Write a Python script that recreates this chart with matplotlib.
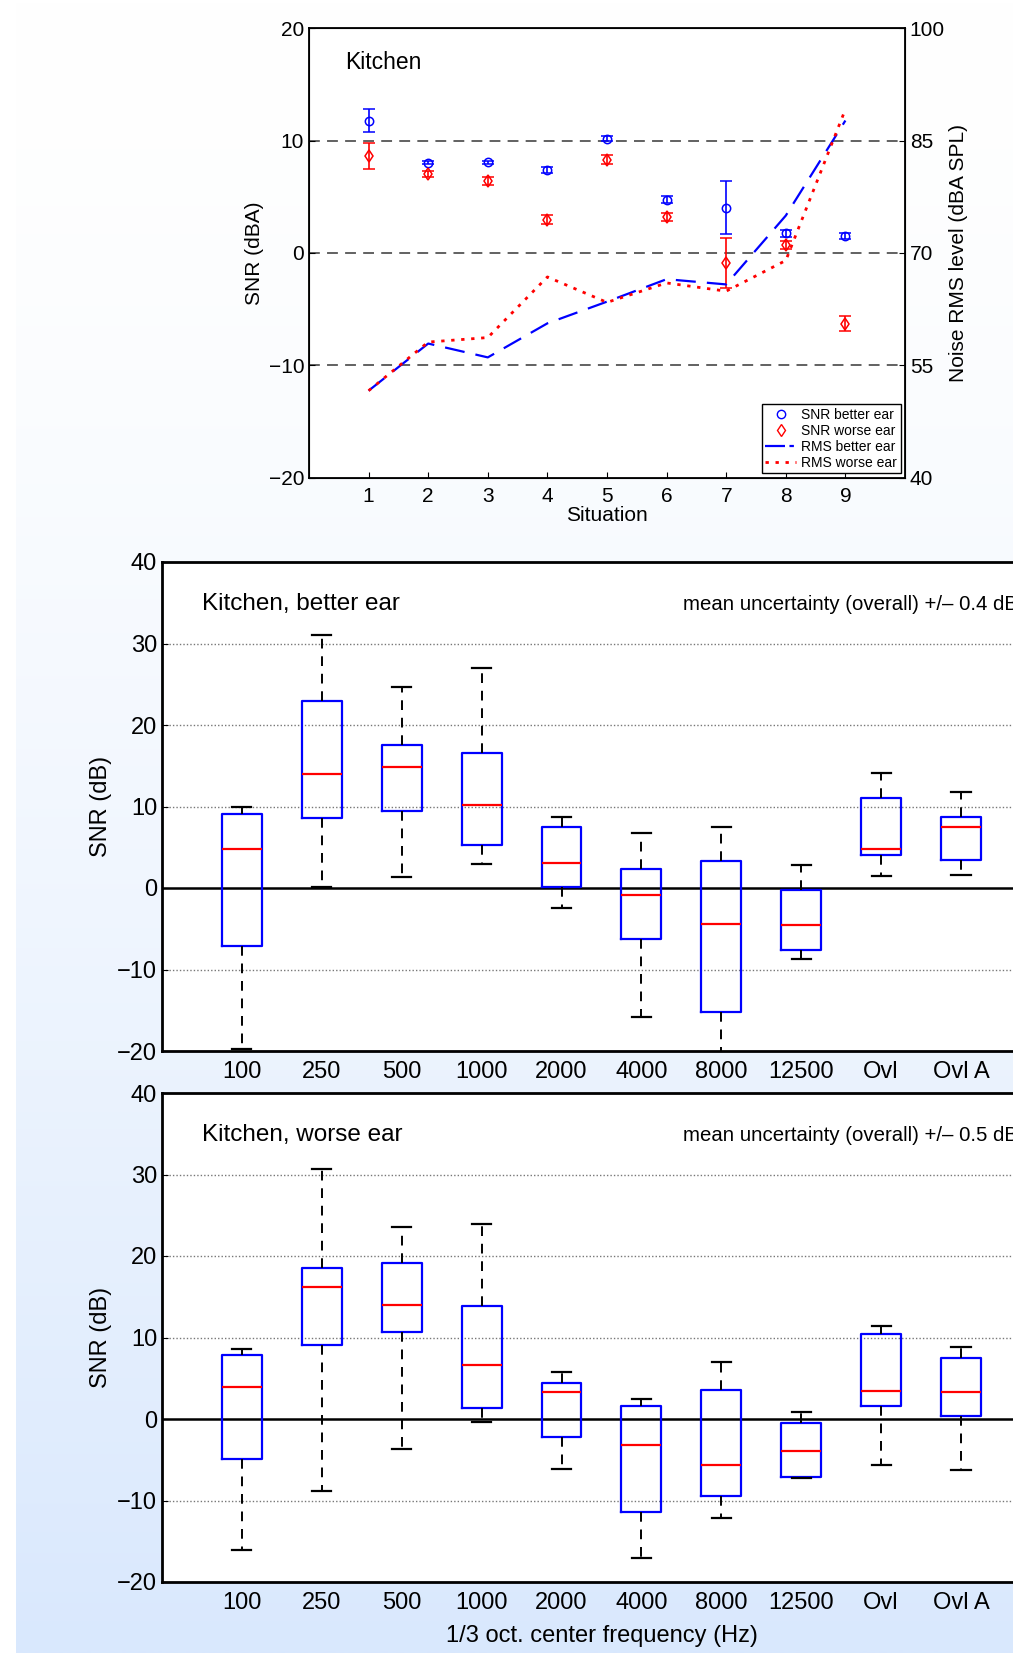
import numpy as np
import matplotlib
matplotlib.use("Agg")
import matplotlib.pyplot as plt
from matplotlib.lines import Line2D

plt.rcParams['font.family'] = ['Liberation Sans', 'DejaVu Sans']

# ---------------- data: top chart ----------------
situations = [1, 2, 3, 4, 5, 6, 7, 8, 9]
snr_better = [11.8, 8.05, 8.08, 7.4, 10.2, 4.76, 4.05, 1.75, 1.51]
snr_better_err = [1.05, 0.15, 0.15, 0.3, 0.2, 0.3, 2.37, 0.3, 0.25]
snr_worse = [8.64, 7.04, 6.39, 2.96, 8.31, 3.22, -0.89, 0.71, -6.32]
snr_worse_err = [1.15, 0.3, 0.35, 0.4, 0.4, 0.35, 2.25, 0.35, 0.67]
rms_better = [51.6, 57.9, 56.05, 60.6, 63.5, 66.5, 65.8, 75.0, 87.7]
rms_worse = [51.6, 58.1, 58.7, 66.8, 63.4, 66.0, 64.9, 69.0, 89.2]

# ---------------- data: box plots ----------------
freq_labels = ['100', '250', '500', '1000', '2000', '4000', '8000', '12500', 'Ovl', 'Ovl A']

better_whislo = [-19.7, 0.18, 1.32, 2.92, -2.44, -15.83, -21.5, -8.73, 1.44, 1.57]
better_q1 = [-7.09, 8.54, 9.47, 5.24, 0.18, -6.2, -15.2, -7.59, 4.02, 3.47]
better_med = [4.74, 13.94, 14.79, 10.19, 3.05, -0.92, -4.43, -4.55, 4.78, 7.44]
better_q3 = [9.13, 22.9, 17.53, 16.56, 7.53, 2.29, 3.26, -0.2, 10.99, 8.67]
better_whishi = [9.93, 31.09, 24.63, 27.0, 8.75, 6.76, 7.44, 2.84, 14.07, 11.83]

worse_whislo = [-16.12, -8.84, -3.7, -0.42, -6.11, -17.08, -12.16, -7.25, -5.7, -6.2]
worse_q1 = [-4.88, 9.14, 10.73, 1.31, -2.24, -11.39, -9.39, -7.06, 1.63, 0.4]
worse_med = [3.91, 16.15, 14.01, 6.59, 3.31, -3.2, -5.65, -3.88, 3.45, 3.31]
worse_q3 = [7.82, 18.52, 19.2, 13.83, 4.41, 1.63, 3.54, -0.46, 10.37, 7.5]
worse_whishi = [8.55, 30.67, 23.57, 23.93, 5.82, 2.4, 7.0, 0.86, 11.46, 8.78]

W, H = 1013, 1653
fig = plt.figure(figsize=(W / 100, H / 100), dpi=100)

# ---------------- background gradient ----------------
bg = fig.add_axes([0, 0, 1, 1], zorder=-10)
ny = 300
t = (np.linspace(0, 1, ny) ** 1.5)[:, None]
top_c = np.array([1.0, 1.0, 1.0])
bot_c = np.array([217, 232, 253]) / 255.0
col = top_c[None, :] * (1 - t) + bot_c[None, :] * t
img = np.repeat(col[:, None, :], W, axis=1)
img[:, :16, :] = 1.0
bg.imshow(img, aspect='auto', extent=[0, 1, 0, 1], origin='upper')
bg.set_axis_off()


def fr(left, top, right, bottom):
    return [left / W, 1 - bottom / H, (right - left) / W, (bottom - top) / H]


# ---------------- top chart ----------------
ax = fig.add_axes(fr(309, 28.5, 905, 477.5))
ax.set_facecolor('white')
ax.set_xlim(0, 10)
ax.set_ylim(-20, 20)
for yv in [-10, 0, 10]:
    ax.axhline(yv, color='#555555', lw=1.3, ls=(0, (6, 4)), zorder=1)
ax.errorbar(situations, snr_better, yerr=snr_better_err, fmt='o', mfc='none',
            mec='blue', ecolor='blue', ms=6, mew=1.1, capsize=4, elinewidth=1.2,
            capthick=1.2, zorder=3)
ax.errorbar(situations, snr_worse, yerr=snr_worse_err, fmt='d', mfc='none',
            mec='red', ecolor='red', ms=6, mew=1.1, capsize=4, elinewidth=1.2,
            capthick=1.2, zorder=3)
ax.set_xticks(situations)
ax.set_yticks([-20, -10, 0, 10, 20])
ax.set_yticklabels(['\u221220', '\u221210', '0', '10', '20'])
ax.tick_params(labelsize=15, direction='in', length=4, top=False)
ax.tick_params(axis='x', pad=7)
ax.set_xlabel('Situation', fontsize=15, labelpad=0)
ax.set_ylabel('SNR (dBA)', fontsize=15, labelpad=3)
ax.text(0.6, 17, 'Kitchen', fontsize=16.5, va='center', ha='left')
for s in ax.spines.values():
    s.set_linewidth(1.3)

ax2 = ax.twinx()
ax2.set_ylim(40, 100)
ax2.set_yticks([40, 55, 70, 85, 100])
l1, = ax2.plot(situations, rms_better, color='blue', ls=(0, (9, 5)), lw=1.6)
l2, = ax2.plot(situations, rms_worse, color='red', ls=(0, (1.2, 2.4)), lw=2.0)
ax2.tick_params(labelsize=15, direction='in', length=4)
ax2.set_ylabel('Noise RMS level (dBA SPL)', fontsize=15, labelpad=3)

handles = [Line2D([], [], ls='none', marker='o', mfc='none', mec='blue', ms=6),
           Line2D([], [], ls='none', marker='d', mfc='none', mec='red', ms=6),
           Line2D([], [], color='blue', ls=(0, (9, 2, 2, 2)), lw=1.6),
           Line2D([], [], color='red', ls=(0, (1.2, 2.4)), lw=2.0)]
leg = ax2.legend(handles, ['SNR better ear', 'SNR worse ear', 'RMS better ear', 'RMS worse ear'],
                 loc='lower right', fontsize=10, frameon=True, fancybox=False,
                 edgecolor='black', framealpha=1, borderpad=0.25, labelspacing=0.15,
                 handlelength=2.2, handletextpad=0.4, borderaxespad=0.3)
leg.get_frame().set_linewidth(1.0)


# ---------------- box plots ----------------
def box_panel(rect, whislo, q1, med, q3, whishi, title, note, xlabel=None):
    a = fig.add_axes(rect)
    a.set_facecolor('white')
    stats = []
    for i in range(len(freq_labels)):
        stats.append(dict(whislo=whislo[i], q1=q1[i], med=med[i], q3=q3[i],
                          whishi=whishi[i], fliers=[], label=freq_labels[i]))
    for yv in [-10, 10, 20, 30]:
        a.axhline(yv, color='#777777', lw=1.0, ls=(0, (1, 1.5)), zorder=0.5)
    a.axhline(0, color='black', lw=1.8, zorder=1)
    a.bxp(stats, positions=np.arange(1, len(freq_labels) + 1), widths=0.5,
          capwidths=0.24, showfliers=False, patch_artist=False,
          boxprops=dict(color='blue', lw=1.6),
          medianprops=dict(color='red', lw=1.6),
          whiskerprops=dict(color='black', ls=(0, (5, 4)), lw=1.4),
          capprops=dict(color='black', lw=1.6))
    a.set_xlim(0, 11)
    a.set_ylim(-20, 40)
    a.set_xticks(np.arange(1, len(freq_labels) + 1))
    a.set_xticklabels(freq_labels)
    a.set_yticks([-20, -10, 0, 10, 20, 30, 40])
    a.set_yticklabels(['\u221220', '\u221210', '0', '10', '20', '30', '40'])
    a.tick_params(labelsize=17, direction='in', length=4, top=False, right=False)
    a.tick_params(axis='x', length=0, pad=7)
    a.set_ylabel('SNR (dB)', fontsize=17, labelpad=4)
    a.text(0.5, 34.8, title, fontsize=17.5, va='center', ha='left')
    a.text(6.52, 34.8, note, fontsize=14.7, va='center', ha='left')
    if xlabel:
        a.set_xlabel(xlabel, fontsize=17, labelpad=8)
    for s in a.spines.values():
        s.set_linewidth(2.0)
    return a


box_panel(fr(162, 562, 162 + 11 * 79.9, 1051), better_whislo, better_q1, better_med,
          better_q3, better_whishi, 'Kitchen, better ear',
          'mean uncertainty (overall) +/\u2013 0.4 dB')
box_panel(fr(162, 1093, 162 + 11 * 79.9, 1582), worse_whislo, worse_q1, worse_med,
          worse_q3, worse_whishi, 'Kitchen, worse ear',
          'mean uncertainty (overall) +/\u2013 0.5 dB',
          xlabel='1/3 oct. center frequency (Hz)')

fig.savefig('out.png', dpi=100)
